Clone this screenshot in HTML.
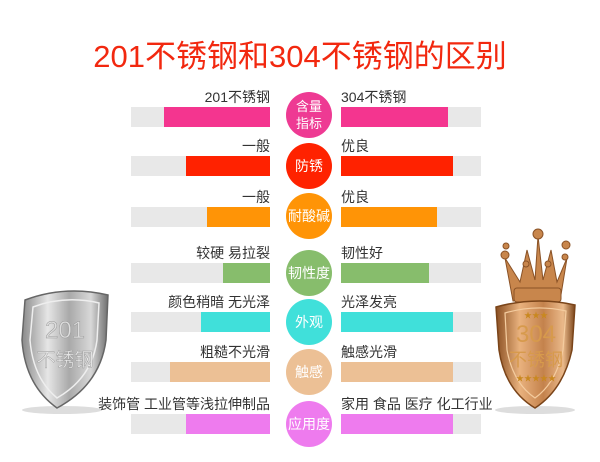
<!DOCTYPE html>
<html><head><meta charset="utf-8"><style>
html,body{margin:0;padding:0;background:#fff;}
body{width:600px;height:462px;position:relative;overflow:hidden;font-family:"Liberation Sans","Noto Sans CJK SC",sans-serif;}
.t{position:absolute;left:0;width:600px;top:35px;text-align:center;color:#f2280f;font-size:31px;line-height:44px;}
.g{position:absolute;background:#e8e8e8;height:20px;}
.b{position:absolute;height:20px;}
.l{position:absolute;font-size:14px;color:#333;line-height:16px;white-space:nowrap;}
.c{position:absolute;width:46px;height:46px;border-radius:50%;color:#fff;font-size:14px;display:flex;align-items:center;justify-content:center;text-align:center;line-height:17px;}
</style></head><body>
<div class="t">201不锈钢和304不锈钢的区别</div>

<svg style="position:absolute;left:0;top:0" width="600" height="462">
<defs>
<linearGradient id="sv" x1="0" x2="1"><stop offset="0" stop-color="#8a8a8a"/><stop offset=".3" stop-color="#e6e6e6"/><stop offset=".55" stop-color="#a9a9a9"/><stop offset=".8" stop-color="#d8d8d8"/><stop offset="1" stop-color="#6e6e6e"/></linearGradient>
<linearGradient id="gd" x1="0" x2="1"><stop offset="0" stop-color="#8a4f22"/><stop offset=".3" stop-color="#e9b27e"/><stop offset=".6" stop-color="#c4824c"/><stop offset=".85" stop-color="#eab98a"/><stop offset="1" stop-color="#7a4419"/></linearGradient>
</defs>
<ellipse cx="62" cy="410" rx="40" ry="4" fill="#ddd"/>
<path d="M25,300 Q65,285 108,295 L106,340 Q100,385 57,408 Q25,385 22,340 Z" fill="url(#sv)" stroke="#666" stroke-width="1.5"/>
<path d="M33,307 Q65,295 99,303 L97,340 Q92,378 57,398 Q33,378 30,340 Z" fill="none" stroke="#eee" stroke-width="1.5"/>
<text x="65" y="338" font-size="24" fill="#ddd" stroke="#999" stroke-width=".5" text-anchor="middle" font-family="Liberation Sans">201</text>
<text x="65" y="366" font-size="19" fill="#e8e8e8" stroke="#999" stroke-width=".4" text-anchor="middle" font-family="Noto Sans CJK SC">不锈钢</text>
<ellipse cx="535" cy="410" rx="40" ry="4" fill="#ddd"/>
<g fill="#c8864c" stroke="#8a5226" stroke-width="1">
<path d="M513,301 L505,258 L520,282 L527,250 L535,280 L538,236 L543,280 L551,250 L557,282 L567,258 L560,301 Z"/>
<circle cx="505" cy="255" r="4"/><circle cx="506" cy="246" r="3"/><circle cx="538" cy="234" r="5"/><circle cx="566" cy="245" r="4"/><circle cx="565" cy="257" r="3"/><circle cx="526" cy="264" r="3"/><circle cx="548" cy="264" r="3"/>
<rect x="514" y="288" width="47" height="14" rx="3"/>
</g>
<path d="M496,307 Q536,296 575,305 L572,350 Q563,390 535,408 Q505,390 499,350 Z" fill="url(#gd)" stroke="#7a4419" stroke-width="1.5"/>
<path d="M505,313 Q536,304 566,311 L563,350 Q556,383 535,398 Q513,383 507,350 Z" fill="none" stroke="#f4cc9f" stroke-width="1.2"/>
<text x="536" y="342" font-size="24" fill="#d79a4c" text-anchor="middle" font-family="Liberation Sans">304</text>
<text x="536" y="366" font-size="18" fill="#d79a4c" text-anchor="middle" font-family="Noto Sans CJK SC">不锈钢</text>
<text x="536" y="318" font-size="8" fill="#c9881f" text-anchor="middle">★★★</text>
<text x="536" y="381" font-size="8" fill="#c9881f" text-anchor="middle">★★★★★</text>
</svg>

<div class="g" style="left:131px;top:107px;width:139px"></div><div class="b" style="left:164px;top:107px;width:106px;background:#f4358f"></div>
<div class="g" style="left:341px;top:107px;width:140px"></div><div class="b" style="left:341px;top:107px;width:107px;background:#f4358f"></div>
<div class="l" style="right:330px;top:89px">201不锈钢</div><div class="l" style="left:341px;top:89px">304不锈钢</div>
<div class="c" style="left:286px;top:92px;background:#ee3a93;font-size:13px">含量<br>指标</div>

<div class="g" style="left:131px;top:156px;width:139px"></div><div class="b" style="left:186px;top:156px;width:84px;background:#ff2200"></div>
<div class="g" style="left:341px;top:156px;width:140px"></div><div class="b" style="left:341px;top:156px;width:112px;background:#ff2200"></div>
<div class="l" style="right:330px;top:138px">一般</div><div class="l" style="left:341px;top:138px">优良</div>
<div class="c" style="left:286px;top:143px;background:#ff2200">防锈</div>

<div class="g" style="left:131px;top:207px;width:139px"></div><div class="b" style="left:207px;top:207px;width:63px;background:#ff9406"></div>
<div class="g" style="left:341px;top:207px;width:140px"></div><div class="b" style="left:341px;top:207px;width:96px;background:#ff9406"></div>
<div class="l" style="right:330px;top:189px">一般</div><div class="l" style="left:341px;top:189px">优良</div>
<div class="c" style="left:286px;top:193px;background:#ff9406">耐酸碱</div>

<div class="g" style="left:131px;top:263px;width:139px"></div><div class="b" style="left:223px;top:263px;width:47px;background:#87bd6c"></div>
<div class="g" style="left:341px;top:263px;width:140px"></div><div class="b" style="left:341px;top:263px;width:88px;background:#87bd6c"></div>
<div class="l" style="right:330px;top:245px">较硬 易拉裂</div><div class="l" style="left:341px;top:245px">韧性好</div>
<div class="c" style="left:286px;top:250px;background:#87bd6c">韧性度</div>

<div class="g" style="left:131px;top:312px;width:139px"></div><div class="b" style="left:201px;top:312px;width:69px;background:#40e0da"></div>
<div class="g" style="left:341px;top:312px;width:140px"></div><div class="b" style="left:341px;top:312px;width:112px;background:#40e0da"></div>
<div class="l" style="right:330px;top:294px">颜色稍暗 无光泽</div><div class="l" style="left:341px;top:294px">光泽发亮</div>
<div class="c" style="left:286px;top:299px;background:#40e0da">外观</div>

<div class="g" style="left:131px;top:362px;width:139px"></div><div class="b" style="left:170px;top:362px;width:100px;background:#ecc095"></div>
<div class="g" style="left:341px;top:362px;width:140px"></div><div class="b" style="left:341px;top:362px;width:112px;background:#ecc095"></div>
<div class="l" style="right:330px;top:344px">粗糙不光滑</div><div class="l" style="left:341px;top:344px">触感光滑</div>
<div class="c" style="left:286px;top:349px;background:#ecc095">触感</div>

<div class="g" style="left:131px;top:414px;width:139px"></div><div class="b" style="left:186px;top:414px;width:84px;background:#ee7bee"></div>
<div class="g" style="left:341px;top:414px;width:140px"></div><div class="b" style="left:341px;top:414px;width:112px;background:#ee7bee"></div>
<div class="l" style="right:330px;top:396px">装饰管 工业管等浅拉伸制品</div><div class="l" style="left:341px;top:396px">家用 食品 医疗 化工行业</div>
<div class="c" style="left:286px;top:401px;background:#ee7bee">应用度</div>
</body></html>
